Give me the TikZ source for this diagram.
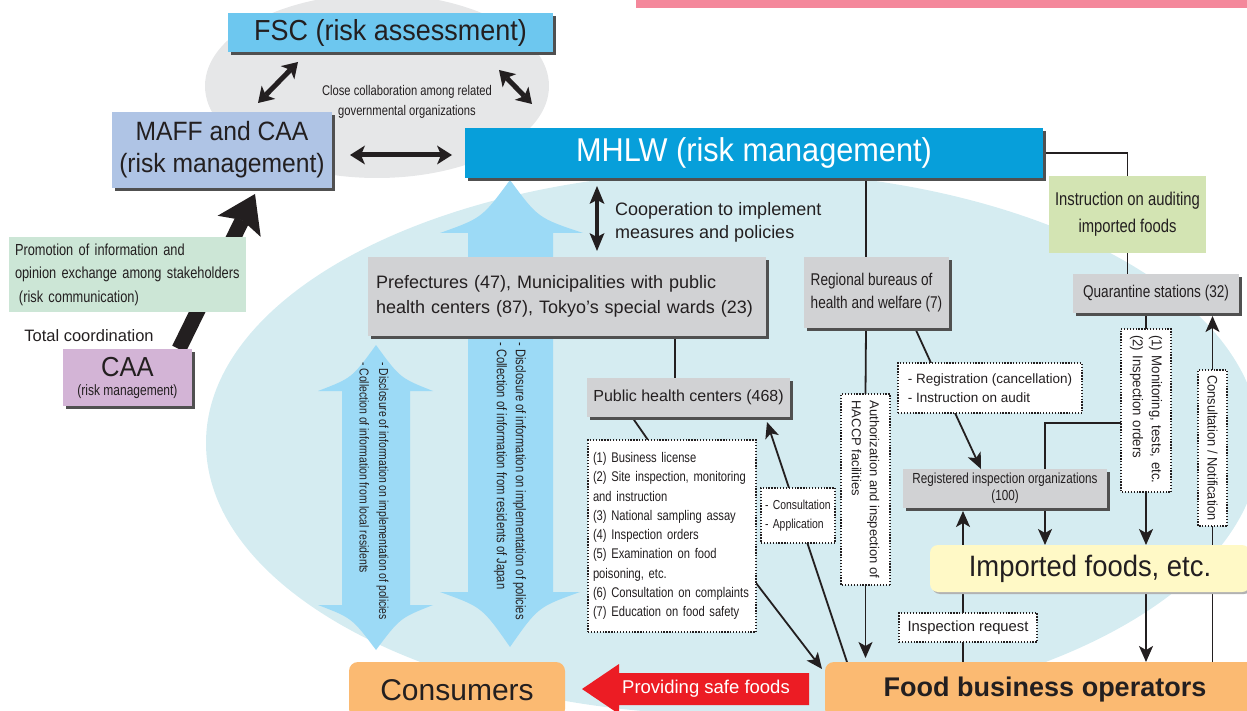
\documentclass[tikz,border=0pt]{standalone}
\usepackage{fontspec}
\setmainfont{Liberation Sans}
\newfontfamily\cnd{Liberation Sans}[FakeStretch=0.8]
\newfontfamily\din{Liberation Sans}[FakeStretch=0.93]
\usetikzlibrary{arrows.meta,calc,shadows}
\pgfdeclarelayer{bg}
\pgfdeclarelayer{lines}
\pgfsetlayers{bg,lines,main}
\newcommand\fsz[2]{\fontsize{#1}{#2}\selectfont}
\definecolor{cBG}{HTML}{D5ECF1}
\definecolor{cGE}{HTML}{E6E7E8}
\definecolor{cFSC}{HTML}{6DC7EF}
\definecolor{cMAFF}{HTML}{AFC4E5}
\definecolor{cMHLW}{HTML}{079FDA}
\definecolor{cPromo}{HTML}{CCE6D6}
\definecolor{cCAA}{HTML}{D3B4D6}
\definecolor{cGray}{HTML}{D1D2D4}
\definecolor{cArr}{HTML}{9CDAF6}
\definecolor{cInstr}{HTML}{D3E4B3}
\definecolor{cImp}{HTML}{FFF9C6}
\definecolor{cOrange}{HTML}{FBBA72}
\definecolor{cRed}{HTML}{EC1C24}
\definecolor{cPink}{HTML}{F4889B}
\definecolor{cShd}{HTML}{505050}
\definecolor{cInk}{HTML}{231F20}
\begin{document}
\begin{tikzpicture}[x=1pt,y=-1pt,
  every node/.style={text=cInk},
  sh/.style={drop shadow={shadow xshift=3pt,shadow yshift=-3pt,fill=cShd,opacity=1}},
  bx/.style={inner sep=0pt, outer sep=0pt},
  dotbox/.style={draw=cInk, dash pattern=on 1.3pt off 1.6pt, line width=1.3pt, fill=white},
  conn/.style={draw=cInk, line width=1.8pt},
  arr/.style={conn, -{Stealth[length=16pt,width=14pt,inset=4pt]}},
  big2/.style={draw=cInk, line width=5pt, {Stealth[length=15pt,width=19pt,inset=4pt,line width=0pt]}-{Stealth[length=15pt,width=19pt,inset=4pt,line width=0pt]}}]
\useasboundingbox (0,0) rectangle (1247,711);

% ---------- nodes ----------
\node[bx, sh, fill=cFSC, minimum width=325pt, minimum height=39pt, font=\din\fsz{29}{32}] (fsc) at (390.5,32.5) {FSC (risk assessment)};
\node[bx, sh, fill=cMAFF, minimum width=220pt, minimum height=76pt, align=center, font=\din\fsz{26.5}{32}] (maff) at (222,150) {MAFF and CAA\\(risk management)};
\node[bx, sh, fill=cMHLW, minimum width=578pt, minimum height=50pt, text=white, font=\din\fsz{33}{36}] (mhlw) at (754,153) {MHLW (risk management)};
\node[font=\cnd\fsz{14}{19.5}, align=center, inner sep=0pt] (collab) at (407,102) {Close collaboration among related\\governmental organizations};
\node[bx, fill=cPromo, minimum width=237pt, minimum height=75pt, text width=225pt, align=left, font=\cnd\fsz{16}{23.5}] (promo) at (127.5,274.5) {Promotion of information and\\opinion exchange among stakeholders\\\hspace*{4pt}(risk communication)};
\node[font=\fsz{16.5}{18}, inner sep=0pt] (total) at (89,336) {Total coordination};
\node[bx, sh, fill=cCAA, minimum width=129pt, minimum height=57pt, align=center, font=\cnd\fsz{15}{19}] (caa) at (127.5,377.5) {{\din\fontsize{27.5}{19}\selectfont CAA}\\(risk management)};
\node[bx, sh, fill=cGray, minimum width=398pt, minimum height=79pt, text width=382pt, align=left, font=\fsz{18}{25}] (pref) at (567,296.5) {Prefectures (47), Municipalities with public\\health centers (87), Tokyo’s special wards (23)};
\node[font=\fsz{18}{23}, align=left, inner sep=0pt, anchor=west] (coop) at (615,222) {Cooperation to implement\\measures and policies};
\node[bx, sh, fill=cGray, minimum width=203pt, minimum height=39pt, font=\fsz{16}{18}] (phc) at (688.5,397.5) {Public health centers (468)};
\node[bx, dotbox, minimum width=168pt, minimum height=192pt, text width=158pt, align=left, font=\cnd\fsz{14}{19.25}] (list) at (672,536) {(1) Business license\\(2) Site inspection, monitoring\\and instruction\\(3) National sampling assay\\(4) Inspection orders\\(5) Examination on food\\poisoning, etc.\\(6) Consultation on complaints\\(7) Education on food safety};
\node[bx, dotbox, minimum width=74pt, minimum height=55pt, text width=66pt, align=left, font=\cnd\fsz{13}{19}] (consapp) at (798,515.5) {- Consultation\\- Application};
\node[bx, sh, fill=cGray, minimum width=145pt, minimum height=71pt, align=left, font=\cnd\fsz{17}{23}] (reg) at (876.5,292.5) {Regional bureaus of\\health and welfare (7)};
\node[bx, dotbox, rotate=-90, minimum width=191pt, minimum height=49pt, align=left, font=\fsz{13}{18}] (hac) at (865.5,489.5) {Authorization and inspection of\\HACCP facilities};
\node[bx, dotbox, minimum width=184pt, minimum height=50pt, align=left, font=\fsz{13.5}{19}] (regbox) at (990,388) {- Registration (cancellation)\\- Instruction on audit};
\node[bx, sh, fill=cGray, minimum width=204pt, minimum height=39pt, align=center, font=\cnd\fsz{14.6}{17}] (rio) at (1005,488.5) {Registered inspection organizations\\(100)};
\node[bx, fill=cInstr, minimum width=157pt, minimum height=77pt, align=center, font=\cnd\fsz{18.5}{27}] (instr) at (1127.5,214.5) {Instruction on auditing\\imported foods};
\node[bx, sh, fill=cGray, minimum width=166pt, minimum height=39pt, font=\cnd\fsz{17}{19}] (quar) at (1156,293.5) {Quarantine stations (32)};
\node[bx, dotbox, rotate=-90, minimum width=163pt, minimum height=50pt, text width=151pt, align=left, font=\din\fsz{14.2}{19}] (qbox) at (1146,410.5) {(1) Monitoring, tests, etc.\\(2) Inspection orders};
\node[bx, dotbox, rotate=-90, minimum width=156pt, minimum height=29pt, font=\din\fsz{13.8}{16}] (cn) at (1212.5,448) {Consultation / Notification};
\node[bx, fill=cImp, rounded corners=8pt, minimum width=320pt, minimum height=47pt, font=\din\fsz{29.5}{32}, drop shadow={shadow xshift=2pt,shadow yshift=-2pt,fill=black!30,opacity=1}] (imp) at (1090,568.5) {Imported foods, etc.};
\node[bx, dotbox, minimum width=138pt, minimum height=29pt, font=\fsz{14.8}{16}] (insp) at (968,627.5) {Inspection request};
\node[bx, fill=cOrange, rounded corners=9pt, minimum width=440pt, minimum height=56pt, font=\bfseries\fsz{27}{30}] (fbo) at (1045,690) {Food business operators};
\node[bx, fill=cOrange, rounded corners=9pt, minimum width=216pt, minimum height=56pt, font=\fsz{30}{32}] (cons) at (457,690) {Consumers};
\node[text=white, font=\fsz{18.5}{20}, inner sep=0pt] (safe) at (706,689) {Providing safe foods};
\node[rotate=-90, anchor=west, align=left, inner sep=0pt, font=\cnd\fsz{13}{19.5}] (t1) at (374,362) {- Disclosure of information on implementation of policies\\- Collection of information from local residents};
\node[rotate=-90, anchor=west, align=left, inner sep=0pt, font=\cnd\fsz{14}{19}] (t2) at (510,342) {- Disclosure of information on implementation of policies\\- Collection of information from residents of Japan};

% ---------- background ----------
\begin{pgfonlayer}{bg}
\fill[cPink] (636,0) rectangle (1247,8);
\fill[cBG] (733,443) ellipse [x radius=527, y radius=272];
\fill[cGE] (377,86) ellipse [x radius=172, y radius=92];
\fill[cArr] (376,345) .. controls (352,378) .. (318,391) -- (342,391) -- (342,605) -- (318,605) .. controls (352,618) .. (376,650) .. controls (400,618) .. (433,605) -- (410,605) -- (410,391) -- (433,391) .. controls (400,378) .. (376,345) -- cycle;
\fill[cArr] (510,180) .. controls (482,218) .. (440,233) -- (468,233) -- (468,592) -- (440,592) .. controls (482,607) .. (510,647) .. controls (538,607) .. (580,592) -- (553,592) -- (553,233) -- (583,233) .. controls (538,218) .. (510,180) -- cycle;
\fill[cRed] (582,689) -- (619,664) -- (619,673) -- (809,673) -- (809,705) -- (619,705) -- (619,714) -- cycle;
\end{pgfonlayer}

% ---------- connectors ----------
\begin{pgfonlayer}{lines}
\draw[big2] ($(fsc.south west)+(70,10)$) -- ($(maff.north east)+(-74,-9)$);
\draw[big2] ($(fsc.south east)+(-54,18)$) -- ($(mhlw.north west)+(67,-24)$);
\draw[big2] ($(maff.east)+(18,5)$) -- ($(mhlw.west)+(-13,2)$);
\draw[draw=cInk, line width=15pt, -{Stealth[length=36pt,width=48pt,inset=7pt,line width=0pt]}] ($(caa.north east)+(-13,0)$) -- ($(maff.south)+(33,6)$);
\draw[draw=cInk, line width=4pt, {Stealth[length=18pt,width=15pt,inset=4pt,line width=0pt]}-{Stealth[length=18pt,width=15pt,inset=4pt,line width=0pt]}] ($(mhlw.south west)+(132,8)$) -- ($(pref.north west)+(229,-6)$);
\draw[conn] ($(pref.south west)+(307,0)$) -- ($(phc.north west)+(88,0)$);
\draw[conn] ($(phc.south west)+(45,0)$) -- ($(list.north west)+(60,0)$);
\draw[arr] ($(list.south east)+(0,-49)$) -- ($(fbo.north west)+(-3,7)$);
\draw[arr] ($(fbo.north west)+(22,0)$) -- ($(phc.south east)+(-23,5)$);
\draw[conn] ($(mhlw.south west)+(401,0)$) -- ($(reg.north west)+(62,0)$);
\draw[conn] ($(reg.south west)+(62,0)$) -- (hac.west);
\draw[arr] (hac.east) -- ($(fbo.north west)+(40.5,-4)$);
\draw[conn] ($(reg.south west)+(111,0)$) -- ($(regbox.north west)+(33,0)$);
\draw[arr] ($(regbox.south west)+(57,0)$) -- ($(rio.north west)+(78,0)$);
\draw[conn] (mhlw.east) -| (instr.north);
\draw[conn] (instr.south) -- (instr.south |- quar.north);
\draw[conn] (qbox.west |- quar.south) -- (qbox.west);
\draw[arr] (qbox.east) -- (qbox.east |- imp.north);
\draw[conn] ($(qbox.south)+(0,12.5)$) -| ($(rio.north west)+(142,0)$);
\coordinate (r1) at ($(rio.south west)+(142,0)$);
\draw[arr] (r1) -- (r1 |- imp.north);
\coordinate (f1) at ($(fbo.north west)+(138,0)$);
\draw[arr, shorten >=3pt] (f1) -- (f1 |- rio.south);
\draw[arr] (qbox.east |- imp.south) -- (qbox.east |- fbo.north);
\draw[arr, shorten >=3pt] (cn.east |- fbo.north) -- (cn.east |- quar.south);
\end{pgfonlayer}
\end{tikzpicture}
\end{document}
